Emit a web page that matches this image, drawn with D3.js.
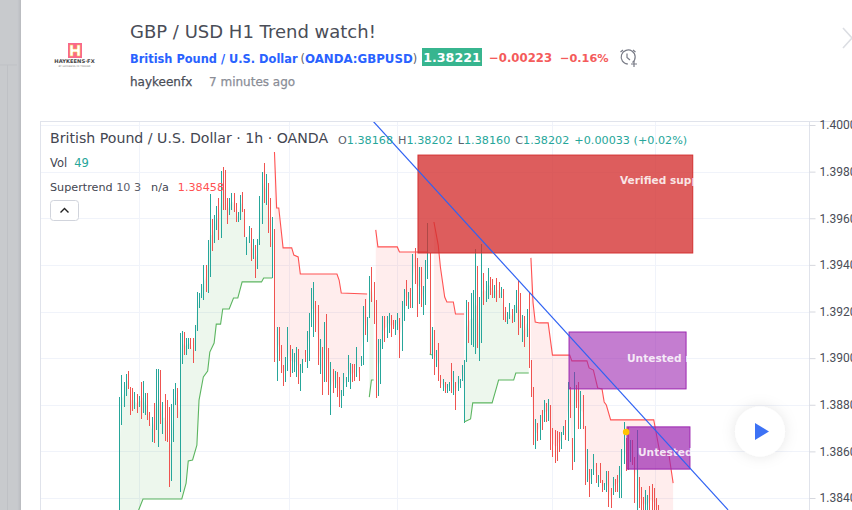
<!DOCTYPE html>
<html><head><meta charset="utf-8">
<script src="https://cdn.jsdelivr.net/npm/d3@7"></script>
<style>html,body{margin:0;padding:0;background:#fff;overflow:hidden}svg{display:block}text{font-family:"DejaVu Sans",sans-serif}</style>
</head><body><svg id="c" width="852" height="510"></svg>
<script>
// prices in 1e-5 units, one entry per hourly bar
const highs=[138833,138928,138898,138932,138945,138876,138872,138855,138846,138838,138898,138902,138850,138850,138769,138747,138808,138953,138953,138949,138812,138846,138820,138790,138803,138868,138893,138872,139108,139116,139112,139086,139086,139086,139086,139142,139284,139279,139318,139400,139400,139507,139704,139597,139614,139653,139687,139803,139820,139807,139687,139687,139708,139708,139666,139627,139700,139713,139640,139520,139567,139558,139511,139485,139511,139696,139799,139837,139790,139751,139687,139605,139554,139134,139134,139056,138971,139005,139134,139056,139039,139022,139048,139039,138975,138996,139035,139116,139194,139301,139327,139245,139228,139082,139048,139155,139189,139044,138983,138953,138945,138941,138919,138863,138936,138919,139013,138979,138975,138975,139048,138962,139009,139224,139254,139176,139352,139391,139327,139249,139082,139082,139181,139181,139181,139194,139185,139164,139164,139194,139172,139245,139297,139335,139284,139301,139447,139473,139430,139391,139391,139309,139421,139580,139451,139134,139121,139035,139065,138928,138911,138898,138889,138898,138979,138945,138898,138923,138911,138971,138992,139249,139241,139279,139292,139468,139395,139262,139490,139365,139331,139387,139348,139340,139314,139344,139327,139305,139297,139219,139198,139237,139211,139228,139292,139331,139279,139185,139181,139211,139284,138992,138876,138739,138722,138756,138778,138820,138808,138825,138799,138700,138692,138687,138683,138683,138709,138735,138898,138876,138657,138941,138885,138898,138859,138842,138709,138610,138524,138524,138589,138550,138499,138550,138477,138464,138516,138516,138443,138490,138482,138499,138537,138610,138726,138657,138705,138649,138649,138576,138692,138490,138447,138404,138434,138413,138451,138460,138443,138400,138370,138310,138300,138300,138295,138290,138290,138285];
const lows=[138327,138713,138790,138838,138868,138756,138773,138782,138765,138790,138739,138765,138756,138735,138709,138640,138636,138692,138619,138717,138675,138645,138640,138447,138473,138640,138799,138743,138426,138975,139013,139013,139039,139039,138979,139031,139116,139215,139258,139249,139284,139279,139348,139460,139494,139550,139507,139515,139636,139636,139575,139614,139636,139627,139584,139584,139593,139627,139520,139442,139494,139417,139425,139344,139382,139485,139575,139666,139657,139537,139477,139344,138983,138902,138988,138936,138880,138898,138945,138919,138936,138941,138919,138889,138859,138936,138983,138958,138988,139134,139091,139112,138971,138932,138842,138898,138898,138842,138756,138850,138872,138833,138790,138786,138838,138876,138898,138868,138898,138902,138919,138902,138966,138971,139099,139069,139172,139241,139146,138829,138838,138889,139039,139069,139086,139108,139091,139125,139099,139121,139001,139031,139159,139224,139211,139215,139215,139318,139176,139232,139219,139185,139228,139340,139013,138996,138928,138962,138902,138872,138859,138850,138850,138859,138850,138842,138778,138859,138872,138902,138722,138983,139065,139056,139048,139018,139044,138988,139065,139228,139241,139254,139271,139258,139258,139241,139258,139258,139164,139155,139146,139168,139151,139155,139194,139099,139129,139069,139048,139091,138958,138833,138627,138610,138645,138649,138692,138726,138726,138730,138606,138576,138550,138559,138597,138610,138670,138649,138645,138743,138520,138554,138786,138696,138696,138696,138456,138469,138404,138460,138499,138464,138447,138464,138426,138434,138426,138361,138357,138413,138426,138426,138400,138400,138546,138516,138520,138554,138542,138379,138349,138357,138340,138331,138323,138323,138323,138323,138323,138323,138323,138250,138250,138240,138240,138230,138230,138230];
const rising=[1,1,1,1,0,0,0,1,0,1,0,1,1,0,0,1,0,1,1,0,1,0,0,0,1,1,1,0,1,1,0,1,1,0,0,1,1,1,1,1,0,1,1,0,1,1,0,1,0,0,0,1,1,0,0,1,1,0,0,1,1,0,1,0,1,1,1,0,1,0,0,1,0,1,0,0,0,1,1,0,1,1,1,0,1,1,0,1,1,1,1,0,0,1,0,1,0,0,1,0,1,0,0,1,1,1,1,1,0,0,1,0,1,1,0,1,1,0,0,0,1,1,1,0,1,1,0,0,1,1,0,1,1,0,1,0,1,0,0,1,0,1,1,1,0,1,0,1,0,0,1,0,1,1,0,1,0,1,1,1,1,1,0,1,1,1,0,1,1,0,1,1,0,0,1,0,0,1,0,0,1,1,0,1,1,0,0,1,0,1,0,0,0,1,0,1,0,1,0,1,0,0,0,0,0,1,1,0,1,0,0,1,0,0,1,0,0,1,0,1,1,0,1,0,0,1,1,0,0,1,0,0,1,1,1,0,0,1,0,0,1,0,0,0,1,1,0,0,0,0,0,0,0,0,0,0,0,0];
// Supertrend legs: [bar, price]
const upLeg1=[[0,138263],[8,138276],[9,138349],[11,138396],[29,138396],[31,138464],[32,138559],[34,138563],[36,138627],[37,138820],[39,138919],[41,138945],[42,139026],[44,139065],[45,139146],[47,139146],[48,139211],[51,139211],[53,139258],[55,139258],[57,139327],[66,139327],[67,139344],[71,139344]];
const downLeg1=[[72,139884],[73,139644],[74,139644],[76,139473],[80,139473],[81,139442],[83,139434],[84,139361],[101,139361],[102,139335],[103,139279],[115,139275]];
const upLeg2=[[116,138833],[117,138906],[118,138906]];
const downLeg2=[[119,139550],[120,139477],[129,139477],[130,139455],[143,139455]];
const upLeg3=[[144,139018],[145,139013]];
const downLeg3=[[146,139584],[148,139485],[149,139391],[151,139262],[152,139241],[155,139241],[156,139189],[160,139189]];
const upLeg4=[[160,138726],[163,138739],[164,138808],[173,138808],[175,138872],[176,138906],[183,138906],[184,138936],[190,138936]];
const downLeg4=[[191,139430],[192,139237],[193,139155],[195,139151],[199,139151],[201,139013],[209,139013],[210,138988],[217,138988],[218,138958],[220,138949],[222,138872],[224,138868],[225,138812],[226,138799],[228,138735],[248,138735],[250,138636],[251,138589],[255,138589],[257,138464]];
// Drawings: bar from, bar to, price top, price bottom
const supplyZone=[138.6,266.1,139871,139451];
const untestedZone1=[208.7,263,139112,138868];
const untestedZone2=[235.6,264.8,138705,138524];
const trendLine=[[117.7,140017],[282.5,138349]];
const marker=[235.2,138683];
const gridBars=[9.1,78.7,128.9,200.8,248.6];
const tickValues=[140000,139800,139600,139400,139200,139000,138800,138600,138400];
const tickLabels=["1.4000","1.3980","1.3960","1.3940","1.3920","1.3900","1.3880","1.3860","1.3840"];

const svg=d3.select("#c");
const x=d3.scaleLinear().domain([0,250]).range([119.3,658.05]);
const y=d3.scaleLinear().domain([138400,140000]).range([498,125]);
const defs=svg.append("defs");
const sh=defs.append("filter").attr("id","sh").attr("x","-50%").attr("y","-50%").attr("width","200%").attr("height","200%");
sh.append("feDropShadow").attr("dx",0).attr("dy",0).attr("stdDeviation",7).attr("flood-color","#000").attr("flood-opacity",.1);
const edge=defs.append("linearGradient").attr("id","edge");
edge.append("stop").attr("offset",0).attr("stop-color","#c9cbcf");
edge.append("stop").attr("offset",1).attr("stop-color","#b9bbbf");
function clip(id,x0,y0,w,h){defs.append("clipPath").attr("id",id).append("rect").attr("x",x0).attr("y",y0).attr("width",w).attr("height",h);}
clip("plot",41,122,768,388);

// page chrome
svg.append("rect").attr("width",21).attr("height",510).attr("fill","#c8cacd");
svg.append("rect").attr("x",17).attr("width",4).attr("height",510).attr("fill","url(#edge)");
svg.append("line").attr("x1",0).attr("x2",17).attr("y1",65).attr("y2",65).attr("stroke","#bfc1c5");
svg.append("line").attr("x1",7.5).attr("x2",7.5).attr("y1",65).attr("y2",510).attr("stroke","#bfc1c5");

// header
const logo=svg.append("g");
logo.append("rect").attr("x",68).attr("y",43).attr("width",14).attr("height",15).attr("fill","#f9688c");
logo.append("path").attr("d","M70 45h3v4h4v-4h3v11h-3v-4h-4v4h-3z").attr("fill","#fff").attr("stroke","#f7c948").attr("stroke-width",.6);
logo.append("text").attr("x",74.5).attr("y",63).attr("text-anchor","middle").attr("font-size",5.2).attr("font-weight",700).attr("fill","#444").text("HAYKEENS·FX");
logo.append("text").attr("x",74.5).attr("y",67).attr("text-anchor","middle").attr("font-size",2.5).attr("fill","#888").text("BY HAYKEENS FX TRADER");
svg.append("text").attr("x",130).attr("y",38).attr("font-size",18).attr("fill","#4a4d57").text("GBP / USD H1 Trend watch!");
const l2=svg.append("text").attr("x",130).attr("y",63).attr("font-size",11.4).attr("font-weight",700).attr("fill","#2962ff");
l2.append("tspan").text("British Pound / U.S. Dollar");
l2.append("tspan").attr("fill","#5d606b").attr("font-weight",400).attr("dx",3).text("(");
l2.append("tspan").attr("font-size",11.8).text("OANDA:GBPUSD");
l2.append("tspan").attr("fill","#5d606b").attr("font-weight",400).text(")");
svg.append("rect").attr("x",422).attr("y",48).attr("width",60).attr("height",18).attr("fill","#37b58f");
svg.append("text").attr("x",452).attr("y",62).attr("text-anchor","middle").attr("font-size",12.6).attr("font-weight",700).attr("fill","#fff").text("1.38221");
svg.append("text").attr("x",489).attr("y",62).attr("font-size",11.7).attr("font-weight",700).attr("fill","#f45b5b").text("−0.00223");
svg.append("text").attr("x",560).attr("y",62).attr("font-size",11.3).attr("font-weight",700).attr("fill","#f45b5b").text("−0.16%");
const al=svg.append("g").attr("fill","none").attr("stroke","#787b86").attr("stroke-width",1.2);
al.append("path").attr("d","M632.5 62.5A7 7 0 1 0 628 64");
al.append("path").attr("d","M627 53.5v4l3 2.5M620.5 52l2.5-2M633 50l2.5 2M634 61v6M631 64h6");
svg.append("path").attr("d","M843 28l9 10l-9 10").attr("fill","none").attr("stroke","#dcdee3").attr("stroke-width",1.6);
const l3=svg.append("text").attr("y",86).attr("font-size",12).attr("stroke-width",.25);
l3.append("tspan").attr("x",130).attr("fill","#4a4d57").attr("stroke","#4a4d57").text("haykeenfx");
l3.append("tspan").attr("x",209).attr("fill","#8a8d96").attr("stroke","#8a8d96").text("7 minutes ago");

// chart frame and grid
svg.append("line").attr("x1",40).attr("x2",852).attr("y1",121.5).attr("y2",121.5).attr("stroke","#e0e3eb");
svg.append("line").attr("x1",40.5).attr("x2",40.5).attr("y1",121).attr("y2",510).attr("stroke","#e0e3eb");
const plot=svg.append("g").attr("clip-path","url(#plot)");
plot.selectAll(".gx").data(gridBars).join("line").attr("x1",d=>Math.round(x(d))+.5).attr("x2",d=>Math.round(x(d))+.5).attr("y1",122).attr("y2",510).attr("stroke","#f0f3fa");
plot.selectAll(".gy").data(tickValues).join("line").attr("x1",41).attr("x2",809).attr("y1",d=>Math.round(y(d))+.5).attr("y2",d=>Math.round(y(d))+.5).attr("stroke","#f0f3fa");

// supertrend fills and lines
const mid=i=>(highs[i]+lows[i])/2;
const legs=[[upLeg1,1],[downLeg1,0],[upLeg2,1],[downLeg2,0],[upLeg3,1],[downLeg3,0],[upLeg4,1],[downLeg4,0]];
legs.forEach(([leg,up])=>{
  const st=d3.scaleLinear().domain(leg.map(d=>d[0])).range(leg.map(d=>d[1]));
  const idx=d3.range(leg[0][0],leg[leg.length-1][0]+1);
  plot.append("path").attr("d",d3.area().x(i=>x(i)).y0(i=>y(st(i))).y1(i=>y(mid(i)))(idx))
    .attr("fill",up?"#4caf50":"#ff5252").attr("fill-opacity",.1);
});
// bars
plot.selectAll(".bar").data(highs).join("line")
  .attr("x1",(d,i)=>Math.round(x(i))+.5).attr("x2",(d,i)=>Math.round(x(i))+.5)
  .attr("y1",d=>y(d)).attr("y2",(d,i)=>y(lows[i]))
  .attr("stroke",(d,i)=>rising[i]?"#26a69a":"#ef5350").attr("stroke-width",1).attr("shape-rendering","crispEdges");
legs.forEach(([leg,up])=>{
  plot.append("path").attr("d",d3.line().x(d=>x(d[0])).y(d=>y(d[1]))(leg))
    .attr("fill","none").attr("stroke",up?"#5cb560":"#ff5252").attr("stroke-width",1.1);
});
// zones
function zone(z,fill,stroke,op,label,tx,ty,id){
  const X0=x(z[0]),X1=x(z[1]),Y0=y(z[2]),Y1=y(z[3]);
  plot.append("rect").attr("x",X0).attr("y",Y0).attr("width",X1-X0).attr("height",Y1-Y0).attr("fill",fill).attr("fill-opacity",op).attr("stroke",stroke).attr("stroke-width",1);
  clip(id,X0,Y0,X1-X0+1,Y1-Y0);
  plot.append("g").attr("clip-path",`url(#${id})`).append("text").attr("x",tx).attr("y",ty).attr("font-size",10.6).attr("font-weight",700).attr("fill","#fff").attr("fill-opacity",.85).text(label);
}
zone(supplyZone,"#d32f2f","#d32f2f",.78,"Verified supply zone",620,184,"z1");
zone(untestedZone1,"#9c27b0","#9c27b0",.6,"Untested resistance",627,362,"z2");
zone(untestedZone2,"#9c27b0","#9c27b0",.7,"Untested resistance",638,456,"z3");
plot.append("path").attr("d",d3.line().x(d=>x(d[0])).y(d=>y(d[1]))(trendLine)).attr("fill","none").attr("stroke","#2f62f3").attr("stroke-width",1.2);
plot.append("circle").attr("cx",x(marker[0])).attr("cy",y(marker[1])).attr("r",3.3).attr("fill","#ffc400");

// price axis
svg.append("line").attr("x1",809.5).attr("x2",809.5).attr("y1",122).attr("y2",510).attr("stroke","#e0e3eb");
const yAxis=d3.axisRight(y).tickValues(tickValues).tickFormat((d,i)=>tickLabels[i]).tickSize(6).tickPadding(4);
const ax=svg.append("g").attr("transform","translate(809.5,0)").call(yAxis);
ax.select(".domain").remove();
ax.selectAll("line").attr("stroke","#d6d8df");
ax.selectAll("text").style("font-family","Roboto,sans-serif").style("font-size","12px").attr("fill","#4a4d57");

// legend
svg.append("text").attr("x",50).attr("y",143).attr("font-size",14.15).attr("fill","#434651").text("British Pound / U.S. Dollar · 1h · OANDA");
const o=svg.append("text").attr("x",338).attr("y",144).attr("font-size",11.2).attr("fill","#26a69a");
[["O","1.38168"],["H","1.38202"],["L","1.38160"],["C","1.38202"]].forEach(([a,b],i)=>{
  o.append("tspan").attr("fill","#5d606b").attr("dx",i?5:0).text(a);o.append("tspan").text(b);
});
o.append("tspan").attr("dx",5).text("+0.00033 (+0.02%)");
const v=svg.append("text").attr("x",50).attr("y",167).attr("font-size",11.5).attr("fill","#434651");
v.append("tspan").text("Vol");v.append("tspan").attr("dx",7).attr("fill","#26a69a").text("49");
const s=svg.append("text").attr("x",50).attr("y",191).attr("font-size",11.2).attr("fill","#434651");
s.append("tspan").text("Supertrend ");s.append("tspan").attr("fill","#5d606b").text("10 3");
s.append("tspan").attr("dx",10).text("n/a");s.append("tspan").attr("dx",9).attr("fill","#ff5252").text("1.38458");
svg.append("rect").attr("x",50.5).attr("y",200.5).attr("width",28).attr("height",20).attr("rx",3).attr("fill","#fff").attr("stroke","#d1d4dc");
svg.append("path").attr("d","M60.5 212.5l4-4l4 4").attr("fill","none").attr("stroke","#222").attr("stroke-width",1.4);

// play button
svg.append("circle").attr("cx",760).attr("cy",431.5).attr("r",25).attr("fill","#fff").attr("filter","url(#sh)");
svg.append("path").attr("d","M755 423l14 8.5l-14 8.5z").attr("fill","#3d72f5");
</script></body></html>
